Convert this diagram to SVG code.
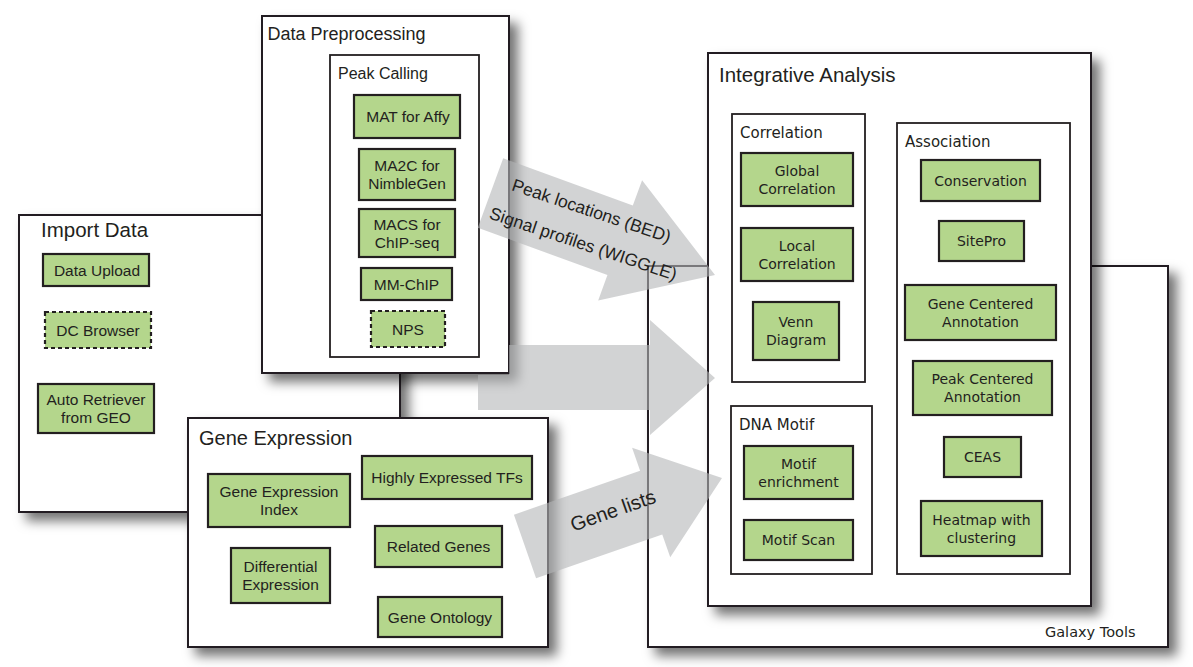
<svg xmlns="http://www.w3.org/2000/svg" width="1193" height="667" viewBox="0 0 1193 667">
<defs>
<filter id="sh" x="-10%" y="-10%" width="130%" height="130%">
<feDropShadow dx="8" dy="8" stdDeviation="6" flood-color="#000" flood-opacity="0.55"/>
</filter>
<style>
.box{fill:#fff;stroke:#231f20;stroke-width:2}
.sub{fill:#fff;stroke:#231f20;stroke-width:1.8}
.g{fill:#b4d68c;stroke:#231f20;stroke-width:2.2}
.gd{fill:#b4d68c;stroke:#231f20;stroke-width:2.2;stroke-dasharray:4 3}
text{font-family:"Liberation Sans",Arial,sans-serif;fill:#231f20}
.l{font-size:15.5px;text-anchor:middle}
.ia{font-family:"DejaVu Sans",sans-serif;font-size:14px;text-anchor:middle}
.iat{font-family:"DejaVu Sans",sans-serif;font-size:15px}
.arrow{fill:#b4b6b8;fill-opacity:0.6}
</style>
</defs>
<rect width="1193" height="667" fill="#fff"/>

<g id="galaxy-tools">
<rect class="box" x="648" y="266" width="520" height="381" filter="url(#sh)"/>
<text class="iat" x="1045" y="637" style="font-size:14.5px">Galaxy Tools</text>
</g>

<g id="import-data">
<rect class="box" x="19" y="215" width="381" height="297" filter="url(#sh)"/>
<text x="41" y="237" style="font-size:20.5px">Import Data</text>
<g id="data-upload"><rect class="g" x="43" y="254" width="106" height="32"/><text class="l" x="97" y="275.5">Data Upload</text></g>
<g id="dc-browser"><rect class="gd" x="45" y="312" width="106" height="36"/><text class="l" x="98" y="335.5">DC Browser</text></g>
<g id="auto-retriever"><rect class="g" x="38" y="384" width="116" height="49"/><text class="l" x="96" y="405">Auto Retriever</text><text class="l" x="96" y="423">from GEO</text></g>
</g>

<g id="integrative-analysis">
<rect class="box" x="708" y="53" width="383" height="553" filter="url(#sh)"/>
<text x="719" y="82" style="font-size:20.5px">Integrative Analysis</text>
<g id="correlation">
<rect class="sub" x="732" y="114" width="133" height="268"/>
<text class="iat" x="740" y="138">Correlation</text>
<g id="global-correlation"><rect class="g" x="741" y="153" width="112" height="53"/><text class="ia" x="797" y="175.5">Global</text><text class="ia" x="797" y="193.5">Correlation</text></g>
<g id="local-correlation"><rect class="g" x="741" y="228" width="112" height="53"/><text class="ia" x="797" y="250.5">Local</text><text class="ia" x="797" y="268.5">Correlation</text></g>
<g id="venn-diagram"><rect class="g" x="753" y="302" width="86" height="58"/><text class="ia" x="796" y="327">Venn</text><text class="ia" x="796" y="345">Diagram</text></g>
</g>
<g id="dna-motif">
<rect class="sub" x="731" y="406" width="141" height="168"/>
<text class="iat" x="739" y="430">DNA Motif</text>
<g id="motif-enrichment"><rect class="g" x="744" y="446" width="109" height="53"/><text class="ia" x="798.5" y="468.5">Motif</text><text class="ia" x="798.5" y="486.5">enrichment</text></g>
<g id="motif-scan"><rect class="g" x="744" y="520" width="109" height="40"/><text class="ia" x="798.5" y="545">Motif Scan</text></g>
</g>
<g id="association">
<rect class="sub" x="897" y="123" width="173" height="451"/>
<text class="iat" x="905" y="147">Association</text>
<g id="conservation"><rect class="g" x="921" y="160" width="119" height="41"/><text class="ia" x="980.5" y="185.5">Conservation</text></g>
<g id="sitepro"><rect class="g" x="939" y="221" width="85" height="40"/><text class="ia" x="981.5" y="246">SitePro</text></g>
<g id="gene-centered"><rect class="g" x="905" y="285" width="151" height="55"/><text class="ia" x="980.5" y="308.5">Gene Centered</text><text class="ia" x="980.5" y="326.5">Annotation</text></g>
<g id="peak-centered"><rect class="g" x="913" y="361" width="139" height="54"/><text class="ia" x="982.5" y="384">Peak Centered</text><text class="ia" x="982.5" y="402">Annotation</text></g>
<g id="ceas"><rect class="g" x="944" y="437" width="77" height="40"/><text class="ia" x="982.5" y="462">CEAS</text></g>
<g id="heatmap"><rect class="g" x="921" y="501" width="121" height="55"/><text class="ia" x="981.5" y="524.5">Heatmap with</text><text class="ia" x="981.5" y="542.5">clustering</text></g>
</g>
</g>

<g id="data-preprocessing">
<rect class="box" x="262" y="16" width="247" height="357" filter="url(#sh)"/>
<text x="267.5" y="39.5" style="font-size:18px">Data Preprocessing</text>
<g id="peak-calling">
<rect class="sub" x="330" y="55" width="149" height="302"/>
<text x="338" y="78.5" style="font-size:16px">Peak Calling</text>
<g id="mat"><rect class="g" x="354" y="95" width="106" height="43"/><text class="l" x="408" y="122">MAT for Affy</text></g>
<g id="ma2c"><rect class="g" x="359" y="149" width="96" height="51"/><text class="l" x="407" y="171">MA2C for</text><text class="l" x="407" y="189">NimbleGen</text></g>
<g id="macs"><rect class="g" x="359" y="209" width="96" height="48"/><text class="l" x="407" y="229.5">MACS for</text><text class="l" x="407" y="247.5">ChIP-seq</text></g>
<g id="mm-chip"><rect class="g" x="361" y="268" width="91" height="32"/><text class="l" x="406.5" y="289.5">MM-ChIP</text></g>
<g id="nps"><rect class="gd" x="371" y="311" width="74" height="36"/><text class="l" x="408" y="334.5">NPS</text></g>
</g>
</g>

<g id="gene-expression">
<rect class="box" x="188" y="418" width="360" height="229" filter="url(#sh)"/>
<text x="199" y="445" style="font-size:20px">Gene Expression</text>
<g id="gei"><rect class="g" x="208" y="474" width="142" height="53"/><text class="l" x="279" y="497">Gene Expression</text><text class="l" x="279" y="515">Index</text></g>
<g id="hetf"><rect class="g" x="362" y="456" width="170" height="43"/><text class="l" x="447" y="483">Highly Expressed TFs</text></g>
<g id="diff-expr"><rect class="g" x="231" y="548" width="99" height="55"/><text class="l" x="280.5" y="572">Differential</text><text class="l" x="280.5" y="590">Expression</text></g>
<g id="related-genes"><rect class="g" x="375" y="526" width="127" height="41"/><text class="l" x="438.5" y="552">Related Genes</text></g>
<g id="gene-ontology"><rect class="g" x="378" y="597" width="124" height="40"/><text class="l" x="440" y="622.5">Gene Ontology</text></g>
</g>

<g id="connectors">
<g id="arrow-peaks">
<polygon class="arrow" transform="translate(490.5,193) rotate(20.06)" points="0,-37 138,-37 138,-64 239,0 138,64 138,37 0,37"/>
<text transform="translate(510.7,190) rotate(18.5)" style="font-size:17.5px">Peak locations (BED)</text>
<text transform="translate(488.3,218.3) rotate(18.5)" style="font-size:17.5px">Signal profiles (WIGGLE)</text>
</g>
<polygon id="arrow-middle" class="arrow" points="509,345 650,345 650,320 715,378 650,435 650,410 478,410 478,375 509,375"/>
<g id="arrow-genes">
<polygon class="arrow" transform="translate(525,546.5) rotate(-19.2)" points="0,-33.7 133.6,-33.7 133.6,-58 208.6,0 133.6,58 133.6,33.7 0,33.7"/>
<text transform="translate(573.3,531.7) rotate(-19.4)" style="font-size:20px">Gene lists</text>
</g>
</g>
</svg>
